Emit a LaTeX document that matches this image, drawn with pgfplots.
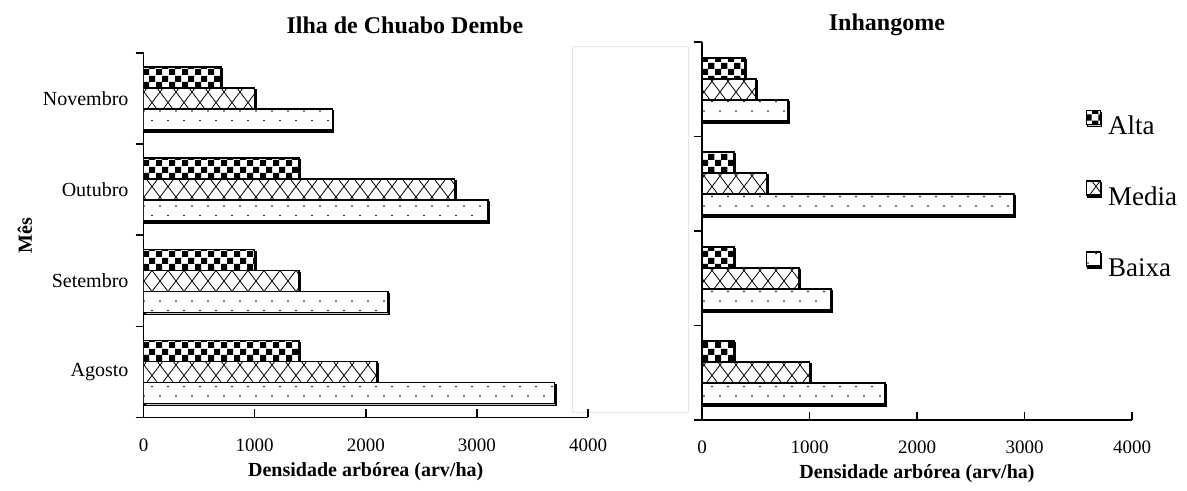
\documentclass[border=0pt]{standalone}
\usepackage{fontspec}
\setmainfont{Liberation Serif}
\usepackage{pgfplots}
\pgfplotsset{compat=1.18}
\usetikzlibrary{patterns.meta}

\tikzdeclarepattern{name=mychecker, type=uncolored,
  bottom left={(0pt,0pt)}, top right={(6.5pt,6.5pt)}, tile size={(6.5pt,6.5pt)},
  code={\fill (0pt,0pt) rectangle (3.25pt,3.25pt); \fill (3.25pt,3.25pt) rectangle (6.5pt,6.5pt);}}
\tikzdeclarepattern{name=mycross, type=uncolored,
  bottom left={(-0.5pt,-0.5pt)}, top right={(8.5pt,11pt)}, tile size={(8pt,10.5pt)},
  code={\draw[line width=0.4pt] (0pt,0pt)--(8pt,10.5pt) (0pt,10.5pt)--(8pt,0pt);}}
\tikzdeclarepattern{name=mydots, type=uncolored,
  bottom left={(-0.6pt,-0.6pt)}, top right={(8.6pt,10.1pt)}, tile size={(8pt,9.5pt)},
  code={\fill (0pt,0pt) circle (0.45pt); \fill (4pt,4.75pt) circle (0.45pt);}}

\pgfplotsset{
  barbase/.style={fill=white, draw=black, line width=0.8pt,
    preaction={fill=black!22, transform canvas={xshift=0.6pt,yshift=-1pt}},
    legend image code/.code={\draw[##1] (0pt,0.5pt) rectangle (7pt,7.5pt);}},
  alta/.style={barbase, bar shift=10.5pt, postaction={pattern=mychecker}},
  media/.style={barbase, bar shift=0pt, postaction={pattern=mycross}},
  baixa/.style={barbase, bar shift=-10.5pt, postaction={pattern=mydots}},
  myaxis/.style={
    xbar, scale only axis, xmin=0, xmax=4000, ymin=-0.5, ymax=3.5,
    bar width=10.5pt,
    axis x line*=bottom, axis y line*=left,
    axis line style={line width=0.8pt, black},
    xtick={0,1000,2000,3000,4000}, xticklabels={0,1000,2000,3000,4000},
    ytick={0,1,2,3},
    minor ytick={-0.5,0.5,1.5,2.5,3.5},
    tick align=inside, major tick length=4pt, minor tick length=4pt,
    major x tick style={line width=0.8pt, black},
    major y tick style={draw=none},
    minor y tick style={line width=0.8pt, black, xshift=-4pt},
    xticklabel style={font=\fontsize{9.5}{10}\selectfont, yshift=-7pt},
    yticklabel style={font=\fontsize{10}{11}\selectfont, xshift=-4pt},
    xlabel={Densidade arbórea (arv/ha)},
    xlabel style={font=\bfseries\fontsize{10}{11}\selectfont, at={(axis description cs:0.5,0)}, anchor=center, yshift=-27pt},
    title style={font=\bfseries\fontsize{12}{13}\selectfont, anchor=center},
  }
}

\begin{document}
\begin{tikzpicture}
\useasboundingbox (0pt,0pt) rectangle (593.5pt,245.5pt);
\draw[black!10, line width=0.5pt] (286pt,39pt) rectangle (344pt,222pt);

\begin{axis}[myaxis, at={(71.75pt,36.75pt)}, anchor=south west,
  width=222.25pt, height=182.25pt,
  yticklabels={Agosto,Setembro,Outubro,Novembro},
  ylabel={Mês},
  ylabel style={font=\bfseries\fontsize{10}{11}\selectfont, at={(axis description cs:-0.267,0.5)}, anchor=center},
  title={Ilha de Chuabo Dembe},
  title style={at={(axis description cs:0.588,1)}, yshift=8pt},
]
\addplot[alta] coordinates {(1400,0) (1000,1) (1400,2) (700,3)};
\addplot[media] coordinates {(2100,0) (1400,1) (2800,2) (1000,3)};
\addplot[baixa] coordinates {(3700,0) (2200,1) (3100,2) (1700,3)};
\end{axis}

\begin{axis}[myaxis, at={(351pt,35.5pt)}, anchor=south west,
  width=215pt, height=189pt,
  yticklabels={},
  title={Inhangome},
  title style={at={(axis description cs:0.43,1)}, yshift=2.5pt},
  legend style={at={(axis description cs:0.891,0.822)}, anchor=north west,
    draw=none, fill=none, inner sep=0pt, row sep=23pt, column sep=3.5pt,
    font=\fontsize{13.5}{14}\selectfont,
    nodes={inner sep=0pt, text height=9pt, text depth=0pt}},
  legend cell align=left,
]
\addplot[alta] coordinates {(300,0) (300,1) (300,2) (400,3)};
\addplot[media] coordinates {(1000,0) (900,1) (600,2) (500,3)};
\addplot[baixa] coordinates {(1700,0) (1200,1) (2900,2) (800,3)};
\legend{Alta,Media,Baixa}
\end{axis}
\end{tikzpicture}
\end{document}
